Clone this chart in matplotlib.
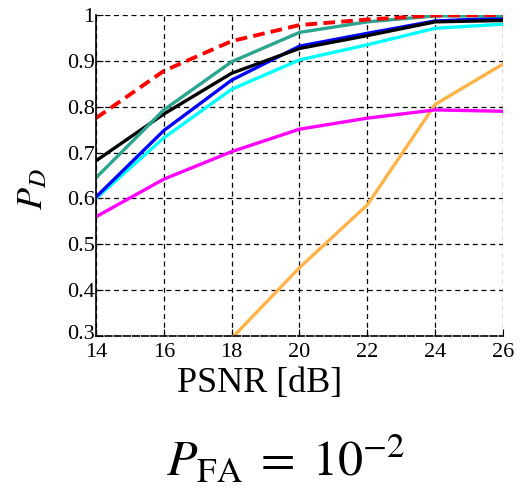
import matplotlib
matplotlib.use("Agg")
import matplotlib.pyplot as plt
import matplotlib.transforms as mtransforms

psnr = [14, 16, 18, 20, 22, 24, 26]
red = [0.775, 0.878, 0.943, 0.978, 0.990, 0.999, 1.000]
teal = [0.645, 0.793, 0.898, 0.962, 0.985, 0.998, 0.998]
black = [0.682, 0.784, 0.873, 0.927, 0.955, 0.985, 0.988]
blue = [0.603, 0.748, 0.858, 0.932, 0.960, 0.987, 0.993]
cyan = [0.600, 0.732, 0.838, 0.902, 0.935, 0.971, 0.980]
magenta = [0.560, 0.642, 0.702, 0.751, 0.775, 0.793, 0.790]
orange_x = [18, 20, 22, 24, 26]
orange = [0.295, 0.449, 0.586, 0.805, 0.893]

plt.rcParams['mathtext.fontset'] = 'stix'
fig = plt.figure(figsize=(5.2, 4.91), dpi=100)
ax = fig.add_axes([0.1846, 0.3157, 0.7827, 0.6538])

ax.plot(orange_x, orange, color='#ffb347', lw=2.4, clip_on=True)
ax.plot(psnr, magenta, color='#ff00ff', lw=2.4)
ax.plot(psnr, cyan, color='#00ffff', lw=2.4)
ax.plot(psnr, blue, color='#0000ff', lw=2.4)
ax.plot(psnr, black, color='black', lw=2.4)
ax.plot(psnr, teal, color='#2aa58f', lw=2.4)
ax.plot(psnr, red, color='#ff0000', lw=2.8, ls=(0, (3, 1.6)))

ax.set_xlim(14, 26)
ax.set_ylim(0.3, 1.0)
ax.set_xticks(psnr)
ax.set_yticks([0.3, 0.4, 0.5, 0.6, 0.7, 0.8, 0.9, 1.0])
ax.set_yticklabels(['0.3', '0.4', '0.5', '0.6', '0.7', '0.8', '0.9', '1'])
ax.grid(True, color='black', ls=(0, (4, 3)), lw=0.9)
ax.tick_params(direction='in', length=5, labelsize=16, pad=1)
ax.tick_params(axis='x', pad=5)
for lab in ax.get_xticklabels() + ax.get_yticklabels():
    lab.set_family('Liberation Serif')
ax.spines['top'].set_visible(False)
ax.spines['right'].set_visible(False)
ax.spines['left'].set_linewidth(1.2)
ax.spines['bottom'].set_linewidth(1.2)
ax.spines['bottom'].set_linestyle((0, (4, 1.5)))

fig.canvas.draw()
ylab0 = ax.get_yticklabels()[0]
ylab0.set_transform(ylab0.get_transform() + mtransforms.ScaledTranslation(0, 3 / 72, fig.dpi_scale_trans))
ax.yaxis.get_major_ticks()[0].label1.set_transform(ylab0.get_transform())

fig.text(0.5, 0.218, 'PSNR [dB]', ha='center', va='center', fontsize=26, family='Liberation Serif')
fig.text(0.062, 0.615, r'$P_D$', ha='center', va='center', fontsize=26, rotation=90)
fig.text(0.55, 0.065, r'$P_{\mathrm{FA}}\;=\;10^{-2}$', ha='center', va='center', fontsize=36)

fig.savefig('out.png', dpi=100)
